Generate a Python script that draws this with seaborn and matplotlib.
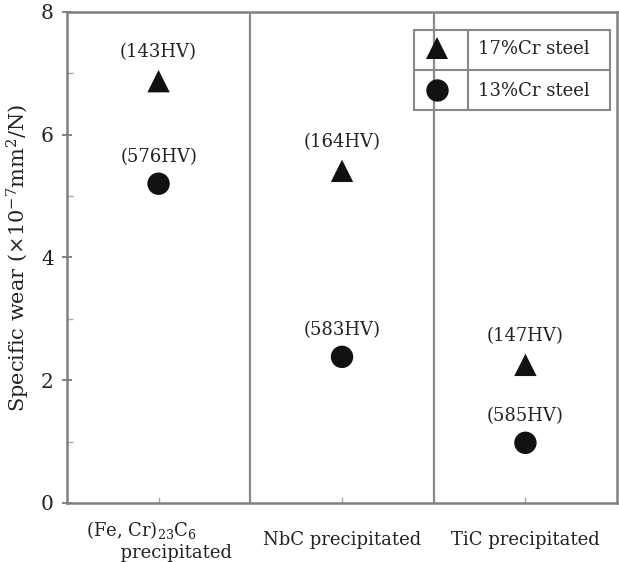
import numpy as np
import pandas as pd
import matplotlib
matplotlib.use("Agg")
import matplotlib.pyplot as plt
from matplotlib.lines import Line2D
from matplotlib.patches import Rectangle
import seaborn as sns

categories = ["(Fe, Cr)$_{23}$C$_6$\n      precipitated", "NbC precipitated", "TiC precipitated"]
steel_17 = [6.87, 5.41, 2.25]
steel_13 = [5.20, 2.38, 0.98]
hv_17 = ["(143HV)", "(164HV)", "(147HV)"]
hv_13 = ["(576HV)", "(583HV)", "(585HV)"]
series_names = ["17%Cr steel", "13%Cr steel"]

sns.set_theme(style="white")
plt.rcParams["font.family"] = ["DejaVu Serif"]
plt.rcParams["mathtext.fontset"] = "dejavuserif"

df = pd.DataFrame({
    "x": list(range(3)) * 2,
    "y": steel_17 + steel_13,
    "steel": [series_names[0]] * 3 + [series_names[1]] * 3,
    "hv": hv_17 + hv_13,
})

W, H = 619, 562
fig = plt.figure(figsize=(6.19, 5.62), dpi=100)
ax = fig.add_axes([0.108, 0.105, 0.889, 0.874])

sns.scatterplot(data=df, x="x", y="y", hue="steel", style="steel",
                palette={series_names[0]: "#111111", series_names[1]: "#111111"},
                markers={series_names[0]: "^", series_names[1]: "o"},
                s=260, edgecolor="none", ax=ax, legend=True)

for _, r in df.iterrows():
    off = 21 if r["steel"] == series_names[0] else 19
    ax.annotate(r["hv"], (r["x"], r["y"]), xytext=(0, off), textcoords="offset points",
                ha="center", va="center", fontsize=13, color="#222222")

ax.set_xlim(-0.5, 2.5)
ax.set_ylim(0, 8)
for xv in [0.5, 1.5]:
    ax.axvline(xv, color="#8a8a8a", lw=1.6)

ax.set_xticks(range(3))
ax.set_xticklabels(categories, fontsize=13, color="#222222", va="center")
for lab in ax.get_xticklabels()[:1]:
    lab.set_multialignment("left")
ax.set_yticks([0, 2, 4, 6, 8])
ax.set_yticks([1, 3, 5, 7], minor=True)
ax.tick_params(axis="y", which="major", direction="inout", length=7, width=1.3,
               color="#777777", labelsize=14.5, labelcolor="#222222", pad=6, left=True)
ax.tick_params(axis="y", which="minor", direction="in", length=4, width=1.0,
               color="#aaaaaa", left=True)
ax.tick_params(axis="x", which="major", direction="in", length=4, width=1.0,
               color="#aaaaaa", pad=27, bottom=True)
ax.set_xlabel("")
ax.set_ylabel("Specific wear (×10$^{-7}$mm$^2$/N)", fontsize=15, color="#222222", labelpad=6)

for sp in ax.spines.values():
    sp.set_color("#808080")
    sp.set_linewidth(1.8)

handles, labels = ax.get_legend_handles_labels()
leg = ax.legend(handles, labels, loc="upper right", bbox_to_anchor=(0.969, 0.963),
                borderaxespad=0, frameon=False, fontsize=13,
                labelspacing=1.35, borderpad=0.55, handletextpad=1.6,
                handlelength=1.4, markerscale=1.0)
for t in leg.get_texts():
    t.set_color("#222222")

fig.canvas.draw()
bb = leg.get_window_extent().transformed(fig.transFigure.inverted())
x0, x1 = bb.x0, bb.x1 + 10 / W
y0, y1 = bb.y0, bb.y1
fig.add_artist(Rectangle((x0, y0), x1 - x0, y1 - y0, transform=fig.transFigure,
                         facecolor="none", edgecolor="#888888", lw=1.5))
x_sep = x0 + 54 / W
y_mid = (y0 + y1) / 2
fig.add_artist(Line2D([x_sep, x_sep], [y0, y1], transform=fig.transFigure,
                      color="#888888", lw=1.5))
fig.add_artist(Line2D([x0, x1], [y_mid, y_mid], transform=fig.transFigure,
                      color="#888888", lw=1.5))

fig.savefig("out.png", dpi=100)
